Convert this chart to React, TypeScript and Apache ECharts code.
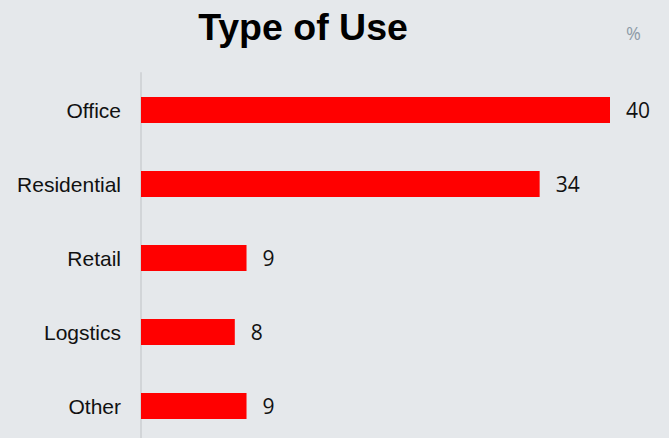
import React, { useEffect, useRef } from "react";
import * as echarts from "echarts";

const categories = ["Office", "Residential", "Retail", "Logstics", "Other"];
const values = [40, 34, 9, 8, 9];
const titleText = "Type of Use";
const unitText = "%";

export default function App() {
  const ref = useRef<HTMLDivElement>(null);
  useEffect(() => {
    if (!ref.current) return;
    const chart = echarts.init(ref.current, null, { renderer: "svg" });
    chart.setOption({
      animation: false,
      backgroundColor: "#e5e8eb",
      graphic: [
        {
          type: "text",
          x: 303,
          y: 8,
          style: {
            text: titleText,
            align: "center",
            verticalAlign: "top",
            fontFamily: "Liberation Sans, Arial, sans-serif",
            fontWeight: "bold",
            fontSize: 37.5,
            fill: "#000",
          },
        },
        {
          type: "text",
          x: 626,
          y: 24,
          style: {
            text: unitText,
            verticalAlign: "top",
            fontFamily: "Open Sans, sans-serif",
            fontSize: 18,
            fill: "#8e9ca8",
          },
        },
      ],
      grid: { left: 141, right: 59, top: 73, height: 370 },
      xAxis: {
        type: "value",
        min: 0,
        max: 40,
        show: false,
      },
      yAxis: {
        type: "category",
        data: categories,
        inverse: true,
        axisLine: { show: true, lineStyle: { color: "#d2d5d8", width: 2 } },
        axisTick: { show: false },
        axisLabel: {
          margin: 20,
          fontFamily: "Liberation Sans, Arial, sans-serif",
          fontSize: 21,
          color: "#111",
        },
      },
      series: [
        {
          type: "bar",
          data: values,
          barWidth: 26,
          itemStyle: { color: "#ff0000" },
          label: {
            show: true,
            position: "right",
            distance: 16,
            fontFamily: "Open Sans, sans-serif",
            fontSize: 21,
            color: "#111",
          },
        },
      ],
    });
    return () => chart.dispose();
  }, []);
  return (
    <div
      ref={ref}
      style={{ position: "fixed", left: 0, top: 0, width: 669, height: 460 }}
    />
  );
}
